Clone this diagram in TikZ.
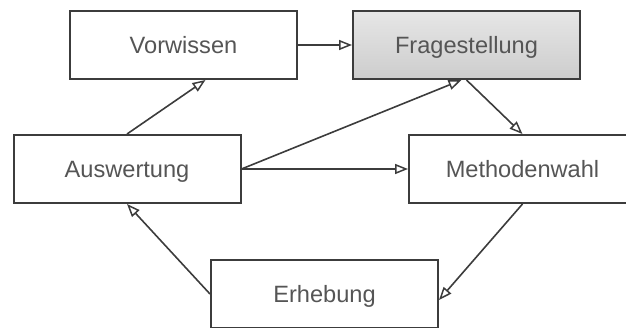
\documentclass[tikz,border=0pt]{standalone}
\usepackage{fontspec}
\setmainfont{Liberation Sans}
\usetikzlibrary{arrows.meta}
\definecolor{framegray}{HTML}{3C3C3C}
\definecolor{labelgray}{HTML}{555555}
\definecolor{shadetop}{HTML}{E6E6E6}
\definecolor{shadebottom}{HTML}{CDCDCD}
\begin{document}
\begin{tikzpicture}[x=1pt,y=-1pt,
  stage/.style={draw=framegray, line width=2pt, fill=white,
    minimum width=227pt, minimum height=68pt, inner sep=0pt,
    text=labelgray, font=\fontsize{23.6}{28}\selectfont,
    text height=16.9pt, text depth=0pt},
  focus/.style={stage, top color=shadetop, bottom color=shadebottom},
  flow/.style={draw=framegray, line width=1.6pt,
    -{Triangle[open, length=13pt, width=10pt, line width=1.5pt]}}
]
\useasboundingbox (0,0) rectangle (626,327);

% the five stages of the cycle
\node[stage] (vorwissen) at (183.5,45)  {Vorwissen};
\node[focus] (frage)     at (466.5,45)  {Fragestellung};
\node[stage] (auswert)   at (127,169)   {Auswertung};
\node[stage] (methode)   at (522.5,169) {Methodenwahl};
\node[stage] (erhebung)  at (324.5,294) {Erhebung};

% connectors
\draw[flow] (vorwissen.east) -- (frage.west);
\draw[flow] (frage.south) -- (methode.north);
\draw[flow] (methode.south) -- ([yshift=-6pt]erhebung.east);
\draw[flow] (erhebung.west) -- (auswert.south);
\draw[flow] (auswert.north) -- ([xshift=22pt]vorwissen.south);
\draw[flow] (auswert.east) -- ([xshift=-5pt]frage.south);
\draw[flow] (auswert.east) -- (methode.west);
\end{tikzpicture}
\end{document}
